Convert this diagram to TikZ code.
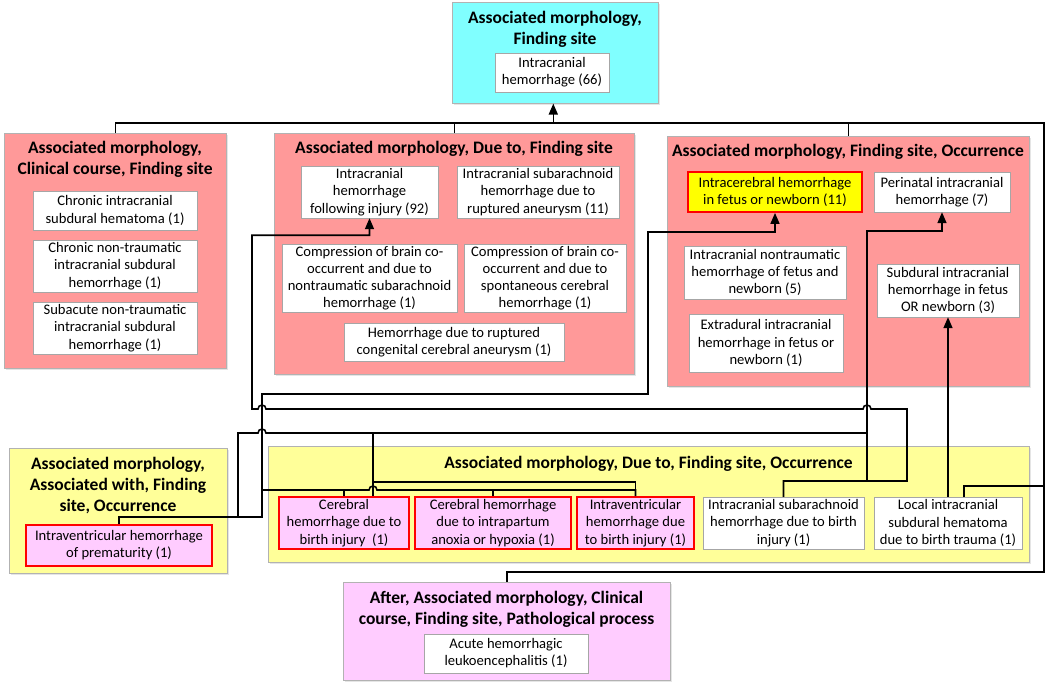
\documentclass[tikz,border=0pt]{standalone}
\usepackage{fontspec}
\setmainfont{Carlito}
\usetikzlibrary{arrows.meta,shadows}
\definecolor{grpred}{RGB}{255,153,153}
\definecolor{grpcyan}{RGB}{128,255,255}
\definecolor{grpyellow}{RGB}{255,255,153}
\definecolor{grppink}{RGB}{255,204,255}
\definecolor{hotyellow}{RGB}{255,255,0}

\begin{document}
\begin{tikzpicture}[x=1pt,y=-1pt,
        conn/.style={line width=1.6pt},
        tip/.style={-{Triangle[length=11pt,width=9pt]}},
        grp/.style={draw=black!30,line width=0.6pt,anchor=north west,inner sep=0pt,
            drop shadow={shadow xshift=2pt,shadow yshift=-2pt,opacity=0.2}},
        ttl/.style={align=center,inner sep=0pt,font=\bfseries\fontsize{17.5}{21}\selectfont},
        item/.style={draw=black!35,fill=white,align=center,inner sep=0.5pt,
            font=\fontsize{14.6}{17.2}\selectfont,
            drop shadow={shadow xshift=1.2pt,shadow yshift=-1.2pt,opacity=0.15}},
        hot/.style={item,draw=red,line width=1.8pt,fill=grppink}]
        \fill[white] (0,0) rectangle (1050,688);
        \useasboundingbox (0,0) rectangle (1050,688);

        % groups
        \node[grp,fill=grpcyan,minimum width=206,minimum height=101] (root) at (452,2) {};
        \node[grp,fill=grpred,minimum width=222,minimum height=235] (g1) at (4,133) {};
        \node[grp,fill=grpred,minimum width=360,minimum height=241] (g2) at (274,133) {};
        \node[grp,fill=grpred,minimum width=362,minimum height=250] (g3) at (667,136) {};
        \node[grp,fill=grpyellow,minimum width=218,minimum height=125] (g4) at (9,448) {};
        \node[grp,fill=grpyellow,minimum width=761,minimum height=116] (g5) at (268,446) {};
        \node[grp,fill=grppink,minimum width=327,minimum height=98] (g6) at (343,582) {};

        \node[ttl] (rootT) at (555,29) {Associated morphology,\\Finding site};
        \node[ttl] (t1) at (115,159.5) {Associated morphology,\\Clinical course, Finding site};
        \node[ttl] (t2) at (454,149) {Associated morphology, Due to, Finding site};
        \node[ttl] (t3) at (848,152) {Associated morphology, Finding site, Occurrence};
        \node[ttl] (t4) at (118,486) {Associated morphology,\\Associated with, Finding\\site, Occurrence};
        \node[ttl] (t5) at (648.5,463.5) {Associated morphology, Due to, Finding site, Occurrence};
        \node[ttl] (t6) at (506.5,609) {After, Associated morphology, Clinical\\course, Finding site, Pathological process};

        % concepts
        \node[item,minimum width=114,minimum height=39] (r0) at (552,72.5) {Intracranial\\hemorrhage (66)};
        \node[item,minimum width=164,minimum height=39] (a1) at (115,210.5) {Chronic intracranial\\subdural hematoma (1)};
        \node[item,minimum width=164,minimum height=52] (a2) at (115,266) {Chronic non-traumatic\\intracranial subdural\\hemorrhage (1)};
        \node[item,minimum width=164,minimum height=52] (a3) at (115,328) {Subacute non-traumatic\\intracranial subdural\\hemorrhage (1)};
        \node[item,minimum width=137,minimum height=52] (b1) at (369.5,192) {Intracranial\\hemorrhage\\following injury (92)};
        \node[item,minimum width=162,minimum height=52] (b2) at (538,192) {Intracranial subarachnoid\\hemorrhage due to\\ruptured aneurysm (11)};
        \node[item,minimum width=175,minimum height=68] (b3) at (369.5,278) {Compression of brain co-\\occurrent and due to\\nontraumatic subarachnoid\\hemorrhage (1)};
        \node[item,minimum width=162,minimum height=68] (b4) at (545,278) {Compression of brain co-\\occurrent and due to\\spontaneous cerebral\\hemorrhage (1)};
        \node[item,minimum width=220,minimum height=38] (b5) at (454,342) {Hemorrhage due to ruptured\\congenital cerebral aneurysm (1)};
        \node[hot,fill=hotyellow,minimum width=174,minimum height=40] (c1) at (775,192) {Intracerebral hemorrhage\\in fetus or newborn (11)};
        \node[item,minimum width=136,minimum height=40] (c2) at (942,192) {Perinatal intracranial\\hemorrhage (7)};
        \node[item,minimum width=162,minimum height=53] (c3) at (765,272.5) {Intracranial nontraumatic\\hemorrhage of fetus and\\newborn (5)};
        \node[item,minimum width=154,minimum height=58] (c4) at (766,343) {Extradural intracranial\\hemorrhage in fetus or\\newborn (1)};
        \node[item,minimum width=142,minimum height=53] (c5) at (948,290.5) {Subdural intracranial\\hemorrhage in fetus\\OR newborn (3)};
        \node[hot,minimum width=186,minimum height=41] (d1) at (119,545.5) {Intraventricular hemorrhage\\of prematurity (1)};
        \node[hot,minimum width=130,minimum height=52] (e1) at (344,523) {Cerebral\\hemorrhage due to\\birth injury~ (1)};
        \node[hot,minimum width=156,minimum height=52] (e2) at (493,523) {Cerebral hemorrhage\\due to intrapartum\\anoxia or hypoxia (1)};
        \node[hot,minimum width=117,minimum height=52] (e3) at (635.5,523) {Intraventricular\\hemorrhage due\\to birth injury (1)};
        \node[item,minimum width=161,minimum height=52] (e4) at (783.5,523) {Intracranial subarachnoid\\hemorrhage due to birth\\injury (1)};
        \node[item,minimum width=148,minimum height=52] (e5) at (948,523) {Local intracranial\\subdural hematoma\\due to birth trauma (1)};
        \node[item,minimum width=164,minimum height=39] (f1) at (506,653.5) {Acute hemorrhagic\\leukoencephalitis (1)};

        % links
        \coordinate (busR) at (1044,123);
        \coordinate (busB) at (1044,572);
        \coordinate (busE) at (1044,486);
        \coordinate (jP) at (262,517);
        \coordinate (jQ) at (238,517);
        \coordinate (jA) at (262,490);
        \coordinate (jB) at (373,433);
        \coordinate (jC) at (373,482);
        \coordinate (jD) at (867,481);
        \draw[conn] (g1.north) |- (busR) -- (busB) -| (g6.north);
        \draw[conn] (g2.north) -- (g2.north |- busR);
        \draw[conn] (g3.north) -- (g3.north |- busR);
        \draw[conn,tip] ([xshift=-2pt]root.south |- busR) -- ([xshift=-2pt]root.south);
        \draw[conn] ([xshift=16pt]e5.north) |- (busE);
        \draw[conn,tip] (e5.north) -- (c5.south);
        \draw[conn,tip] (e4.north) |- (907,481) -- (907,409) -- (871,409) arc[start angle=0,end angle=-180,radius=4]
              -- (266,409) arc[start angle=0,end angle=-180,radius=4] -- (252,409) |- ([yshift=-17pt]b1.south) -- (b1.south);
        \draw[conn,tip] (jD) -- (867,231) -| (c2.south);
        \draw[conn,tip] (d1.north) |- (jP) -- (262,394) -| (648,232) -| (c1.south);
        \draw[conn] (jA) -- (369,490) arc[start angle=180,end angle=360,radius=4] -| (e3.north);
        \draw[conn] (e1.north) -- (e1.north |- jA);
        \draw[conn] (e2.north) -- (e2.north |- jA);
        \draw[conn] (jQ) |- (258,433) arc[start angle=180,end angle=360,radius=4] -- (867,433);
        \draw[conn] (jB) -- (jB |- e1.north);
        \draw[conn] (jC) -| (e3.north);
    \end{tikzpicture}
\end{document}
